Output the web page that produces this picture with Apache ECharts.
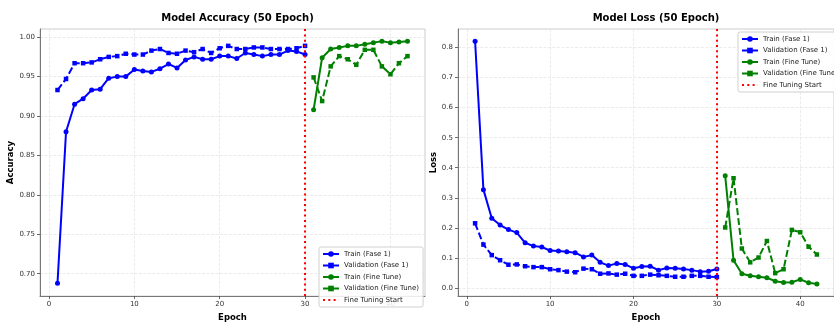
<!DOCTYPE html>
<html>
<head>
<meta charset="utf-8">
<script src="https://cdn.jsdelivr.net/npm/echarts@6/dist/echarts.min.js"></script>
<style>html,body{margin:0;padding:0;background:#fff;}#c{width:834px;height:327px;}</style>
</head>
<body>
<div id="c"></div>
<script>
const epochs1 = [1,2,3,4,5,6,7,8,9,10,11,12,13,14,15,16,17,18,19,20,21,22,23,24,25,26,27,28,29,30];
const epochs2 = [31,32,33,34,35,36,37,38,39,40,41,42];
const fineTuneEpoch = 30;

const trainAcc1 = [0.688,0.880,0.915,0.922,0.933,0.934,0.948,0.950,0.950,0.959,0.957,0.956,0.960,0.966,0.961,0.971,0.975,0.972,0.972,0.976,0.976,0.973,0.980,0.978,0.976,0.978,0.978,0.983,0.982,0.978];
const valAcc1 = [0.933,0.947,0.967,0.967,0.968,0.972,0.975,0.976,0.979,0.978,0.978,0.983,0.985,0.980,0.979,0.983,0.981,0.985,0.980,0.986,0.989,0.985,0.985,0.987,0.987,0.985,0.985,0.985,0.986,0.989];
const trainAcc2 = [0.908,0.974,0.985,0.987,0.989,0.989,0.991,0.993,0.995,0.993,0.994,0.995];
const valAcc2 = [0.949,0.919,0.963,0.976,0.972,0.965,0.984,0.984,0.963,0.953,0.967,0.976];

const trainLoss1 = [0.821,0.327,0.232,0.209,0.194,0.184,0.150,0.139,0.136,0.124,0.123,0.120,0.117,0.103,0.109,0.085,0.074,0.081,0.078,0.065,0.071,0.072,0.059,0.066,0.065,0.063,0.059,0.054,0.055,0.063];
const valLoss1 = [0.215,0.144,0.109,0.092,0.077,0.078,0.072,0.069,0.069,0.062,0.059,0.054,0.052,0.064,0.062,0.047,0.048,0.044,0.047,0.040,0.040,0.044,0.042,0.040,0.037,0.037,0.040,0.040,0.037,0.036];
const trainLoss2 = [0.373,0.092,0.047,0.040,0.037,0.034,0.022,0.018,0.019,0.028,0.017,0.013];
const valLoss2 = [0.201,0.365,0.131,0.085,0.101,0.156,0.049,0.062,0.193,0.185,0.137,0.111];

const xTicks = [0,10,20,30,40];
const accTicks = [0.70,0.75,0.80,0.85,0.90,0.95,1.00];
const lossTicks = [0.0,0.1,0.2,0.3,0.4,0.5,0.6,0.7,0.8];

const names = ['Train (Fase 1)','Validation (Fase 1)','Train (Fine Tune)','Validation (Fine Tune)','Fine Tuning Start'];
const BLUE = '#0000ff', GREEN = '#008000', RED = '#ff0000';
const FONT = 'DejaVu Sans';

function pairs(xs, ys){ return xs.map((x,i)=>[x, ys[i]]); }

function lineSeries(name, idx, xs, ys, color, dashed){
  return {
    name: name, type: 'line', xAxisIndex: idx, yAxisIndex: idx,
    data: pairs(xs, ys),
    symbol: dashed ? 'rect' : 'circle',
    symbolSize: dashed ? 4.5 : 5,
    showSymbol: true,
    itemStyle: {color: color},
    lineStyle: {color: color, width: 2, type: dashed ? [7,3] : 'solid'},
    emphasis: {disabled: true},
    z: 3
  };
}
function vline(idx){
  return {
    name: names[4], type: 'line', xAxisIndex: idx, yAxisIndex: idx,
    data: [], symbol: 'none',
    itemStyle: {color: RED, opacity: 0},
    lineStyle: {color: RED, width: 2, type: [2,3.3]},
    markLine: {
      silent: true, symbol: 'none', animation: false,
      label: {show: false},
      lineStyle: {color: RED, width: 2, type: [2,3.3], cap: 'butt', opacity: 1},
      data: [{xAxis: fineTuneEpoch}]
    },
    z: 4
  };
}

function xAxisCfg(idx){
  return {
    type: 'value', gridIndex: idx, min: -1.05, max: 44.05,
    name: 'Epoch', nameLocation: 'middle', nameGap: 12,
    nameTextStyle: {fontFamily: FONT, fontWeight: 'bold', fontSize: 8.5, color: '#000'},
    axisLine: {show: true, onZero: false, lineStyle: {color: '#777', width: 1}},
    axisTick: {show: true, length: 3, customValues: xTicks, lineStyle: {color: '#444', width: 0.8}},
    axisLabel: {customValues: xTicks, fontFamily: FONT, fontSize: 7, color: '#333', margin: 5},
    splitLine: {show: true, lineStyle: {color: '#e6e6e6', width: 0.8, type: [3,1.5]}}
  };
}
function yAxisCfg(idx, min, max, ticks, dec, name, gap){
  return {
    type: 'value', gridIndex: idx, min: min, max: max,
    name: name, nameLocation: 'middle', nameGap: gap, nameRotate: 90,
    nameTextStyle: {fontFamily: FONT, fontWeight: 'bold', fontSize: 8.5, color: '#000'},
    axisLine: {show: true, onZero: false, lineStyle: {color: '#777', width: 1}},
    axisTick: {show: true, length: 3, customValues: ticks, lineStyle: {color: '#444', width: 0.8}},
    axisLabel: {customValues: ticks, fontFamily: FONT, fontSize: 7, color: '#333', margin: 5,
      formatter: v => v.toFixed(dec)},
    splitLine: {show: true, lineStyle: {color: '#e6e6e6', width: 0.8, type: [3,1.5]}}
  };
}
function legendCfg(left, top){
  return {
    data: names.map(n => n === names[4] ? {name: n, itemStyle: {opacity: 0}} : n),
    orient: 'vertical', left: left, top: top,
    itemWidth: 16, itemHeight: 7, itemGap: 3.5,
    padding: [3,4,3,3],
    backgroundColor: 'rgba(255,255,255,0.85)',
    borderColor: '#d0d0d0', borderWidth: 1, borderRadius: 2,
    textStyle: {fontFamily: FONT, fontSize: 7, color: '#222', lineHeight: 8, padding: [0,0,0,0]},
    selectedMode: false
  };
}

const option = {
  animation: false,
  backgroundColor: '#fff',
  title: [
    {text: 'Model Accuracy (50 Epoch)', left: 232.5, top: 8, textAlign: 'center',
     textStyle: {fontFamily: FONT, fontWeight: 'bold', fontSize: 10, color: '#000'}},
    {text: 'Model Loss (50 Epoch)', left: 651, top: 8, textAlign: 'center',
     textStyle: {fontFamily: FONT, fontWeight: 'bold', fontSize: 10, color: '#000'}}
  ],
  grid: [
    {left: 40, top: 29, width: 385, height: 277, show: true, borderColor: '#cccccc', borderWidth: 1, backgroundColor: 'transparent'},
    {left: 458, top: 29, width: 386.5, height: 277, show: true, borderColor: '#cccccc', borderWidth: 1, backgroundColor: 'transparent'}
  ],
  xAxis: [xAxisCfg(0), xAxisCfg(1)],
  yAxis: [
    yAxisCfg(0, 0.6716, 1.0104, accTicks, 2, 'Accuracy', 23),
    yAxisCfg(1, -0.0275, 0.862, lossTicks, 1, 'Loss', 17)
  ],
  legend: [legendCfg(319, 247), legendCfg(738, 32)],
  series: [
    lineSeries(names[0], 0, epochs1, trainAcc1, BLUE, false),
    lineSeries(names[1], 0, epochs1, valAcc1, BLUE, true),
    lineSeries(names[2], 0, epochs2, trainAcc2, GREEN, false),
    lineSeries(names[3], 0, epochs2, valAcc2, GREEN, true),
    vline(0),
    lineSeries(names[0], 1, epochs1, trainLoss1, BLUE, false),
    lineSeries(names[1], 1, epochs1, valLoss1, BLUE, true),
    lineSeries(names[2], 1, epochs2, trainLoss2, GREEN, false),
    lineSeries(names[3], 1, epochs2, valLoss2, GREEN, true),
    vline(1)
  ]
};
const chart = echarts.init(document.getElementById('c'), null, {renderer: 'canvas'});
chart.setOption(option);
</script>
</body>
</html>
